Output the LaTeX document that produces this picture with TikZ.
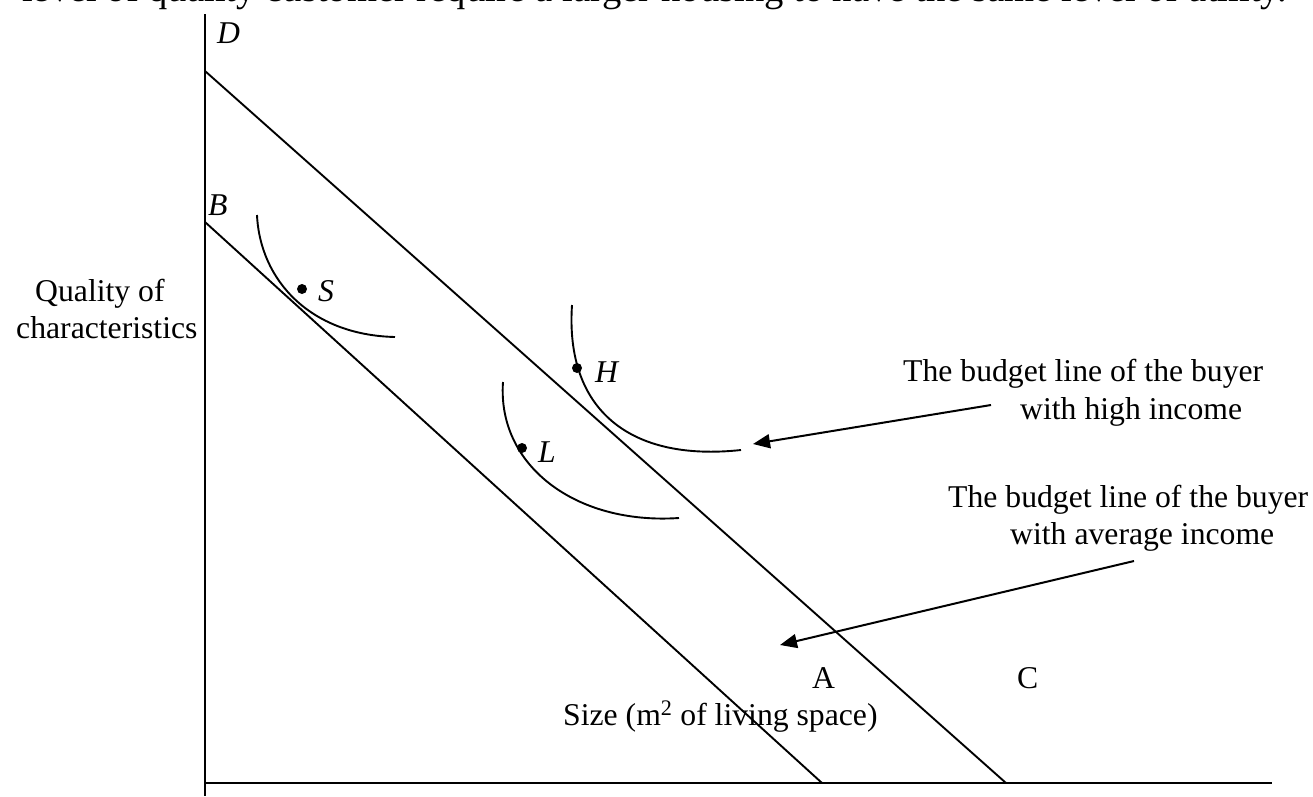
\documentclass[tikz,border=0pt]{standalone}
\usepackage{fontspec}
\setmainfont{Liberation Serif}
\usetikzlibrary{arrows.meta}
\begin{document}
\begin{tikzpicture}[x=1pt,y=-1pt,
  txt/.style={inner sep=0pt,anchor=base west,font=\fontsize{31.7}{37}\selectfont},
  lbl/.style={inner sep=0pt,anchor=base west,font=\fontsize{31.7}{37}\selectfont\itshape},
  axisline/.style={line width=2.2pt},
  budget/.style={line width=1.9pt},
  icurve/.style={line width=1.9pt},
  pointer/.style={line width=2pt,-{Triangle[length=17pt,width=14pt]}},
  dotmark/.style={circle,fill=black,inner sep=0pt,minimum size=10pt}]
\useasboundingbox (0,0) rectangle (1313,796);

% cut-off line of text at top
\node[inner sep=0pt,anchor=base west,font=\fontsize{38.6}{44}\selectfont] (toptext) at (22,1) {level of quality customer require a larger housing to have the same level of utility.};

% axes
\coordinate (ytop) at (205,14);
\coordinate (ybot) at (205,796);
\coordinate (xl) at (205,783);
\coordinate (xr) at (1272,783);
\draw[axisline] (ytop) -- (ybot);
\draw[axisline] (xl) -- (xr);

% budget lines
\coordinate (D0) at (205,71);
\coordinate (D1) at (1006,783);
\coordinate (B0) at (205,222);
\coordinate (B1) at (822,783);
\draw[budget] (D0) -- (D1);
\draw[budget] (B0) -- (B1);

% indifference curves
\draw[icurve] (257,215) .. controls (260,280) and (310,335) .. (395,337);
\draw[icurve] (572,305) .. controls (565,410) and (630,462) .. (741,450);
\draw[icurve] (503,382) .. controls (497,465) and (575,525) .. (679,518);

% points
\node[dotmark] (Sdot) at (302,289) {};
\node[dotmark] (Hdot) at (577,368) {};
\node[dotmark] (Ldot) at (522,448) {};

% letter labels
\node[lbl] (Dlab) at (217,43) {D};
\node[lbl] (Blab) at (208,215) {B};
\node[lbl] (Slab) at (318,301) {S};
\node[lbl] (Hlab) at (595,382) {H};
\node[lbl] (Llab) at (538,462) {L};
\node[txt] (Alab) at (812,688) {A};
\node[txt] (Clab) at (1017,688) {C};

% axis titles
\node[txt] (q1) at (35,301) {Quality of};
\node[txt] (q2) at (16,338) {characteristics};
\node[txt] (size) at (563,725) {Size (m\textsuperscript{2} of living space)};

% annotations
\node[txt] (hi1) at (903,381) {The budget line of the buyer};
\node[txt] (hi2) at (1020,419) {with high income};
\node[txt] (av1) at (948,507) {The budget line of the buyer};
\node[txt] (av2) at (1010,544) {with average income};

\coordinate (a1s) at (991,405);
\coordinate (a1e) at (753,444);
\coordinate (a2s) at (1134,561);
\coordinate (a2e) at (780,645);
\draw[pointer] (a1s) -- (a1e);
\draw[pointer] (a2s) -- (a2e);
\end{tikzpicture}
\end{document}
